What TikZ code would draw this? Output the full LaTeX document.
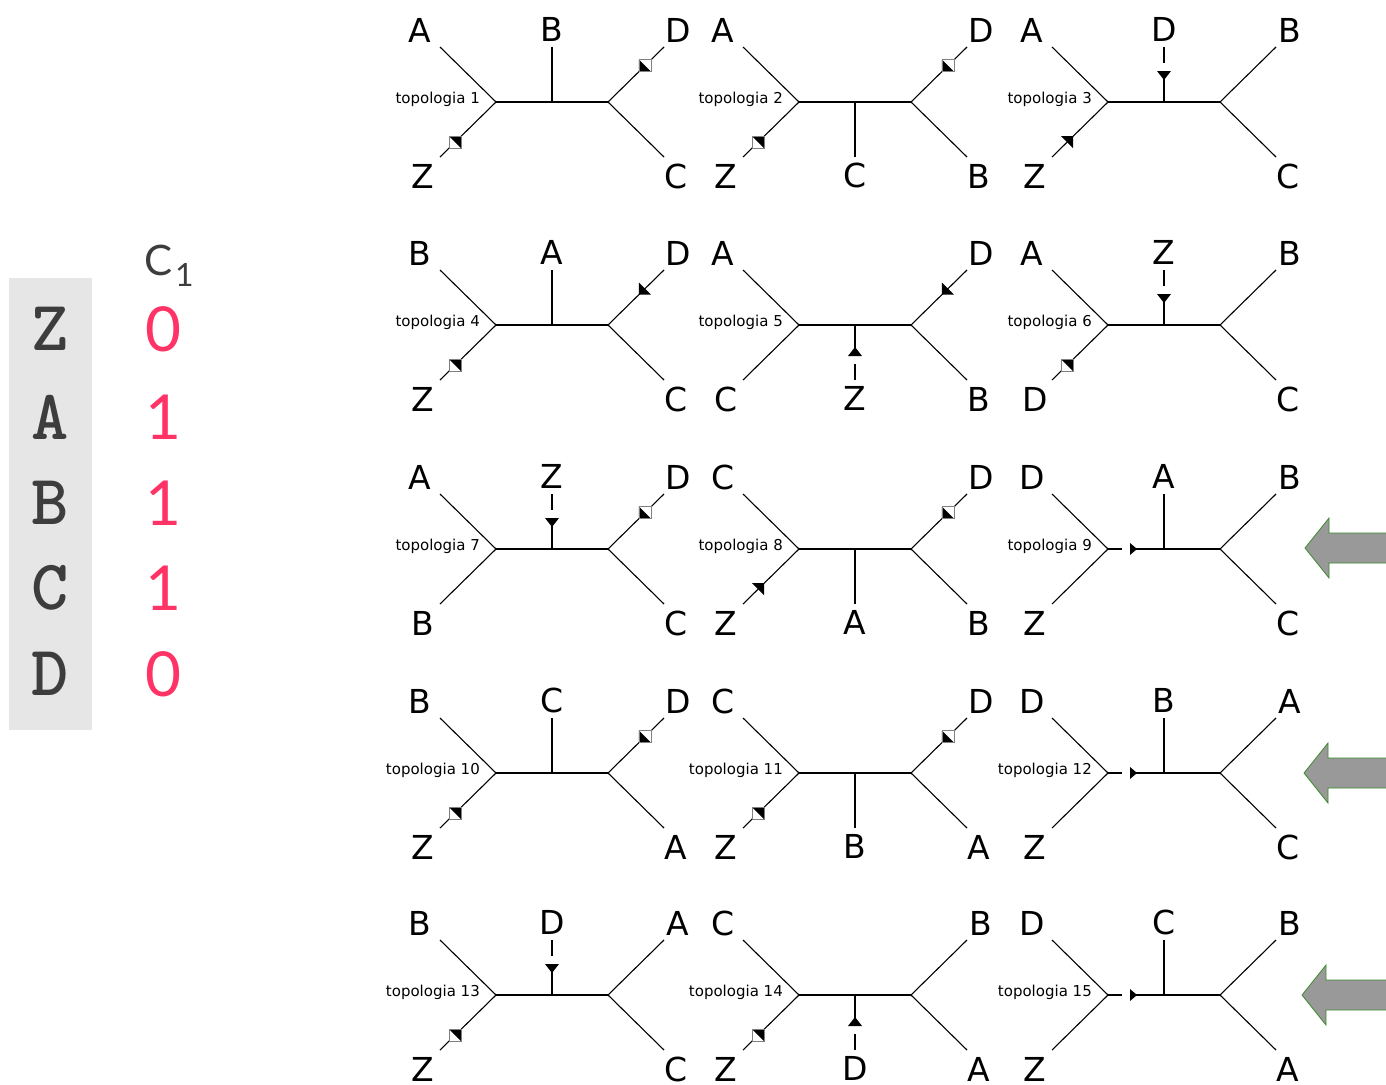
\documentclass[tikz,border=0pt]{standalone}
\usepackage{fontspec}
\setmainfont{DejaVu Sans}
\newfontfamily\latofont{Lato}
\usetikzlibrary{positioning}

\definecolor{statered}{HTML}{FF3366}
\definecolor{taxgray}{HTML}{3D3D3D}
\definecolor{boxgray}{HTML}{E6E6E6}
\definecolor{arrowfill}{HTML}{999999}
\definecolor{arrowgreen}{HTML}{3A8A2A}

% one unrooted tree: name, centre, number, top-left, bottom-left, middle leaf, side (-1 up, 1 down), top-right, bottom-right
\newcommand{\topology}[9]{%
  \begin{scope}[shift={#2}]
    \coordinate (#1) at (0,0);
    \coordinate (#1-l) at (-56,0);
    \coordinate (#1-r) at (56,0);
    \coordinate (#1-tl) at (-112,-55);
    \coordinate (#1-bl) at (-112,55);
    \coordinate (#1-tr) at (112,-55);
    \coordinate (#1-br) at (112,55);
    \coordinate (#1-mid) at (0,{#7*55});
    \node[leaf] (#1-TL) at (-132,-72) {#4};
    \node[leaf] (#1-BL) at (-129,74) {#5};
    \node[leaf] (#1-M) at (0,{#7*73}) {#6};
    \node[leaf] (#1-TR) at (126,-72) {#8};
    \node[leaf] (#1-BR) at (124,74) {#9};
    \node[topname] (#1-name) at (-72,-3) {topologia #3};
  \end{scope}
  \draw[branch] (#1-l) -- (#1-r);
  \draw[branch] (#1-tl) -- (#1-l) -- (#1-bl);
  \draw[branch] (#1-tr) -- (#1-r) -- (#1-br);
  \draw[branch] (#1) -- (#1-mid);
}
% change marks on the middle branch and on the inner edge
\newcommand{\chgdown}[1]{%
  \begin{scope}[shift={(#1)}]
    \fill[white] (-3,-31) rectangle (3,-39);
    \fill (0,-22) -- (-7,-31) -- (7,-31) -- cycle;
  \end{scope}}
\newcommand{\chgup}[1]{%
  \begin{scope}[shift={(#1)}]
    \fill[white] (-3,31) rectangle (3,39);
    \fill (0,22) -- (-7,31) -- (7,31) -- cycle;
  \end{scope}}
\newcommand{\chgright}[1]{%
  \begin{scope}[shift={(#1)}]
    \fill[white] (-42,-3) rectangle (-34,3);
    \fill (-27,0) -- (-34,-6) -- (-34,6) -- cycle;
  \end{scope}}
\newcommand{\pickarrow}[2]{%
  \draw[fill=arrowfill, draw=arrowgreen, line width=0.8pt] (#2) -- ++(24,-30) -- ++(0,15) -- ++(70,0) -- ++(0,30) -- ++(-70,0) -- ++(0,15) -- cycle;
  \coordinate (#1) at (#2);}

\begin{document}
\begin{tikzpicture}[x=1pt, y=-1pt,
  branch/.style={line width=1.1pt, line join=miter},
  leaf/.style={font=\fontsize{33}{36}\selectfont, inner sep=0pt},
  topname/.style={anchor=east, font=\fontsize{15}{17}\selectfont, inner sep=0pt},
  markbox/.style={minimum size=12pt, inner sep=0pt, outer sep=0pt},
  sqsw/.style={markbox, draw=gray, fill=white, line width=0.6pt,
    path picture={\fill[black] (path picture bounding box.north west) -- (path picture bounding box.south west) -- (path picture bounding box.south east) -- cycle;}},
  sqne/.style={markbox, draw=gray, fill=white, line width=0.6pt,
    path picture={\fill[black] (path picture bounding box.north west) -- (path picture bounding box.north east) -- (path picture bounding box.south east) -- cycle;}},
  trisw/.style={markbox,
    path picture={\fill[black] (path picture bounding box.north west) -- (path picture bounding box.south west) -- (path picture bounding box.south east) -- cycle;}},
  trine/.style={markbox,
    path picture={\fill[black] (path picture bounding box.north west) -- (path picture bounding box.north east) -- (path picture bounding box.south east) -- cycle;}},
  taxon/.style={font=\fontsize{71}{72}\ttfamily\bfseries, text=taxgray, inner sep=0pt},
  state/.style={font=\fontsize{62}{64}\latofont, text=statered, inner sep=0pt}]
  \useasboundingbox (0,0) rectangle (1386,1084);

  % character matrix
  \fill[boxgray] (9,278) rectangle (92,730);
  \node[font=\fontsize{42}{44}\latofont, text=taxgray, inner sep=0pt] (c1) at (159,260) {C};
  \node[font=\fontsize{32}{34}\latofont, text=taxgray, inner sep=0pt, anchor=west] (c1sub) at (175,275) {1};
  \node[taxon] (tz) at (50,329) {Z};
  \node[taxon] (ta) at (50,417) {A};
  \node[taxon] (tb) at (50,503) {B};
  \node[taxon] (tc) at (50,588) {C};
  \node[taxon] (td) at (50,674) {D};
  \node[state] (sz) at (163,329) {0};
  \node[state] (sa) at (163,417) {1};
  \node[state] (sb) at (163,503) {1};
  \node[state] (sc) at (163,588) {1};
  \node[state] (sd) at (163,674) {0};

  % the fifteen topologies
  \topology{t1}{(552,102)}{1}{A}{Z}{B}{-1}{D}{C}
  \topology{t2}{(855,102)}{2}{A}{Z}{C}{1}{D}{B}
  \topology{t3}{(1164,102)}{3}{A}{Z}{D}{-1}{B}{C}
  \topology{t4}{(552,325)}{4}{B}{Z}{A}{-1}{D}{C}
  \topology{t5}{(855,325)}{5}{A}{C}{Z}{1}{D}{B}
  \topology{t6}{(1164,325)}{6}{A}{D}{Z}{-1}{B}{C}
  \topology{t7}{(552,549)}{7}{A}{B}{Z}{-1}{D}{C}
  \topology{t8}{(855,549)}{8}{C}{Z}{A}{1}{D}{B}
  \topology{t9}{(1164,549)}{9}{D}{Z}{A}{-1}{B}{C}
  \topology{t10}{(552,773)}{10}{B}{Z}{C}{-1}{D}{A}
  \topology{t11}{(855,773)}{11}{C}{Z}{B}{1}{D}{A}
  \topology{t12}{(1164,773)}{12}{D}{Z}{B}{-1}{A}{C}
  \topology{t13}{(552,995)}{13}{B}{Z}{D}{-1}{A}{C}
  \topology{t14}{(855,995)}{14}{C}{Z}{D}{1}{B}{A}
  \topology{t15}{(1164,995)}{15}{D}{Z}{C}{-1}{B}{A}

  % state changes
  \path (t1-r) -- (t1-tr) node[sqsw, pos=.66] (t1-m1) {};
  \path (t1-l) -- (t1-bl) node[sqne, pos=.73] (t1-m2) {};
  \path (t2-r) -- (t2-tr) node[sqsw, pos=.66] (t2-m1) {};
  \path (t2-l) -- (t2-bl) node[sqne, pos=.73] (t2-m2) {};
  \chgdown{t3}
  \path (t3-l) -- (t3-bl) node[trine, pos=.73] (t3-m2) {};
  \path (t4-r) -- (t4-tr) node[trisw, pos=.66] (t4-m1) {};
  \path (t4-l) -- (t4-bl) node[sqne, pos=.73] (t4-m2) {};
  \path (t5-r) -- (t5-tr) node[trisw, pos=.66] (t5-m1) {};
  \chgup{t5}
  \chgdown{t6}
  \path (t6-l) -- (t6-bl) node[sqne, pos=.73] (t6-m2) {};
  \chgdown{t7}
  \path (t7-r) -- (t7-tr) node[sqsw, pos=.66] (t7-m1) {};
  \path (t8-r) -- (t8-tr) node[sqsw, pos=.66] (t8-m1) {};
  \path (t8-l) -- (t8-bl) node[trine, pos=.73] (t8-m2) {};
  \chgright{t9}
  \path (t10-r) -- (t10-tr) node[sqsw, pos=.66] (t10-m1) {};
  \path (t10-l) -- (t10-bl) node[sqne, pos=.73] (t10-m2) {};
  \path (t11-r) -- (t11-tr) node[sqsw, pos=.66] (t11-m1) {};
  \path (t11-l) -- (t11-bl) node[sqne, pos=.73] (t11-m2) {};
  \chgright{t12}
  \chgdown{t13}
  \path (t13-l) -- (t13-bl) node[sqne, pos=.73] (t13-m2) {};
  \chgup{t14}
  \path (t14-l) -- (t14-bl) node[sqne, pos=.73] (t14-m2) {};
  \chgright{t15}

  % best topologies
  \pickarrow{p9}{1305,548}
  \pickarrow{p12}{1304,773}
  \pickarrow{p15}{1302,995}
\end{tikzpicture}
\end{document}
